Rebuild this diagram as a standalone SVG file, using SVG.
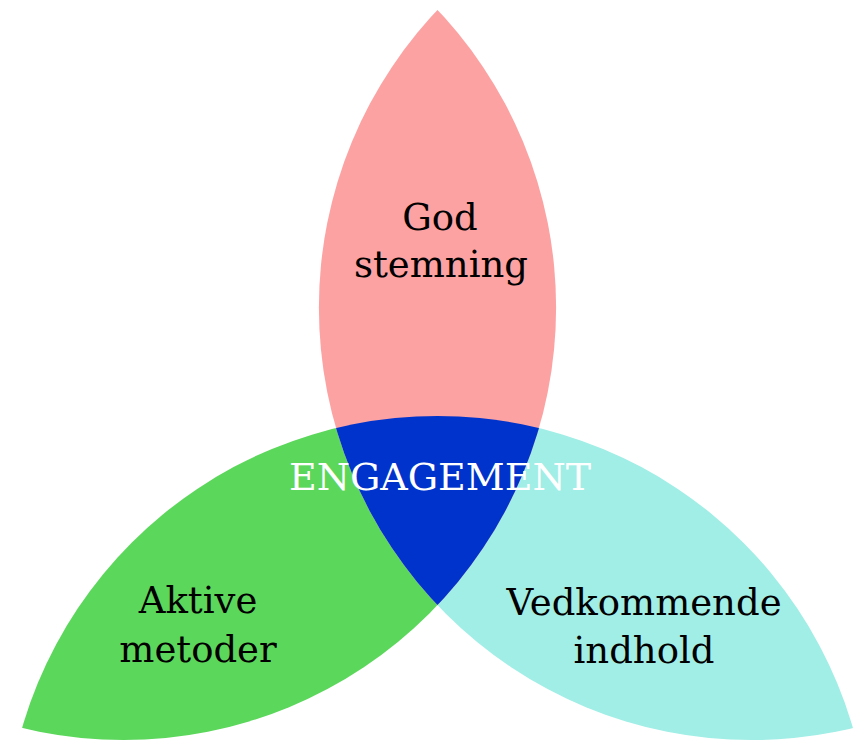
<svg xmlns="http://www.w3.org/2000/svg" width="865" height="741" viewBox="0 0 865 741">
<style>
.lbl{font-family:"DejaVu Serif","Liberation Serif",serif;font-size:37px;fill:#000;text-anchor:middle}
.core{font-family:"DejaVu Serif","Liberation Serif",serif;font-size:38px;fill:#fff;text-anchor:middle}
</style>
<defs>
<clipPath id="cL"><circle cx="123.5" cy="307.5" r="432.6"/></clipPath>
<clipPath id="cR"><circle cx="751.5" cy="307.5" r="432.6"/></clipPath>
<clipPath id="cD"><circle cx="437.5" cy="848.6" r="432.6"/></clipPath>
</defs>
<rect width="865" height="741" fill="#fff"/>
<g id="aktive-metoder">
<circle cx="437.5" cy="848.6" r="432.6" fill="#5BD75B" clip-path="url(#cL)"/>
<text class="lbl" x="198" y="613">Aktive</text>
<text class="lbl" x="198" y="662">metoder</text>
</g>
<g id="vedkommende-indhold">
<circle cx="437.5" cy="848.6" r="432.6" fill="#A0EEE6" clip-path="url(#cR)"/>
<text class="lbl" x="644" y="615">Vedkommende</text>
<text class="lbl" x="644" y="663">indhold</text>
</g>
<g id="god-stemning">
<circle cx="123.5" cy="307.5" r="432.6" fill="#FCA2A2" clip-path="url(#cR)"/>
<text class="lbl" x="440" y="230">God</text>
<text class="lbl" x="441" y="277">stemning</text>
</g>
<g id="engagement">
<g clip-path="url(#cD)">
<circle cx="123.5" cy="307.5" r="432.6" fill="#0033CC" clip-path="url(#cR)"/>
</g>
<text class="core" x="440" y="490">ENGAGEMENT</text>
</g>
</svg>
